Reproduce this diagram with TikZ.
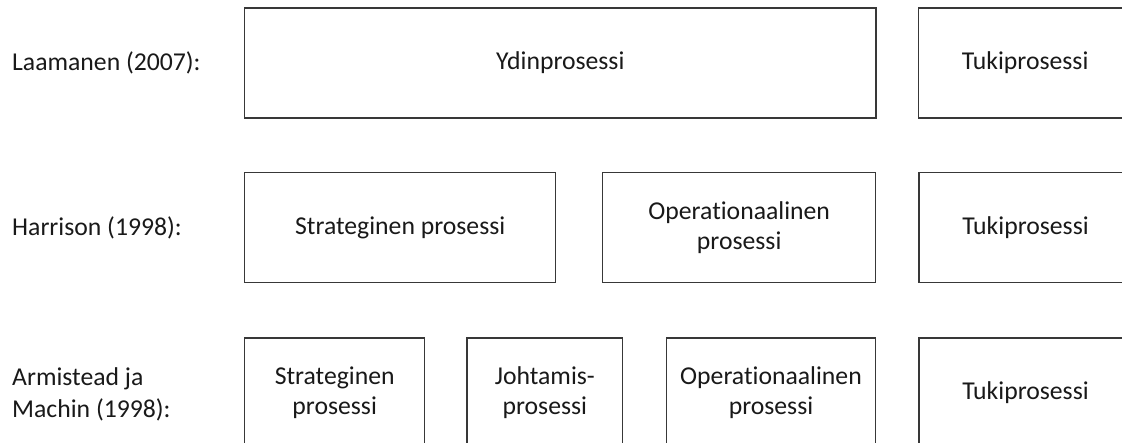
\documentclass[tikz,border=0pt]{standalone}
\usepackage{fontspec}
\setmainfont[Ligatures=NoCommon]{Carlito}
\begin{document}
\begin{tikzpicture}[x=1pt,y=-1pt,
  procbox/.style={draw=black!78, line width=1.3pt, fill=white, text=black!90,
    align=center, inner sep=0pt, font=\fontsize{25.7}{30}\selectfont},
  authorlabel/.style={anchor=west, align=left, inner sep=0pt, text=black!90,
    font=\fontsize{25.7}{32}\selectfont}]
\useasboundingbox (0,0) rectangle (1122,443);
\clip (0,0) rectangle (1122,443);

% Laamanen (2007)
\node[authorlabel] (lLaam) at (12,63) {Laamanen (2007):};
\node[procbox, minimum width=631.3pt, minimum height=110pt] (ydin) at (560.35,63) {Ydinprosessi};
\node[procbox, minimum width=213pt, minimum height=110pt] (tuki1) at (1025.2,63) {Tukiprosessi};

% Harrison (1998)
\node[authorlabel] (lHarr) at (12,227.7) {Harrison (1998):};
\node[procbox, minimum width=311pt, minimum height=110pt] (strat2) at (400.2,227.7) {Strateginen prosessi};
\node[procbox, minimum width=273pt, minimum height=110pt] (oper2) at (739.2,227.7) {Operationaalinen\\prosessi};
\node[procbox, minimum width=213pt, minimum height=110pt] (tuki2) at (1025.5,227.7) {Tukiprosessi};

% Armistead ja Machin (1998)
\node[authorlabel] (lArm) at (12,394) {Armistead ja\\Machin (1998):};
\node[procbox, minimum width=180pt, minimum height=110pt] (strat3) at (334.7,393) {Strateginen\\prosessi};
\node[procbox, minimum width=155.7pt, minimum height=110pt] (joht3) at (544.85,393) {Johtamis-\\prosessi};
\node[procbox, minimum width=209.4pt, minimum height=110pt] (oper3) at (771,393) {Operationaalinen\\prosessi};
\node[procbox, minimum width=213pt, minimum height=110pt] (tuki3) at (1025.5,393) {Tukiprosessi};
\end{tikzpicture}
\end{document}
